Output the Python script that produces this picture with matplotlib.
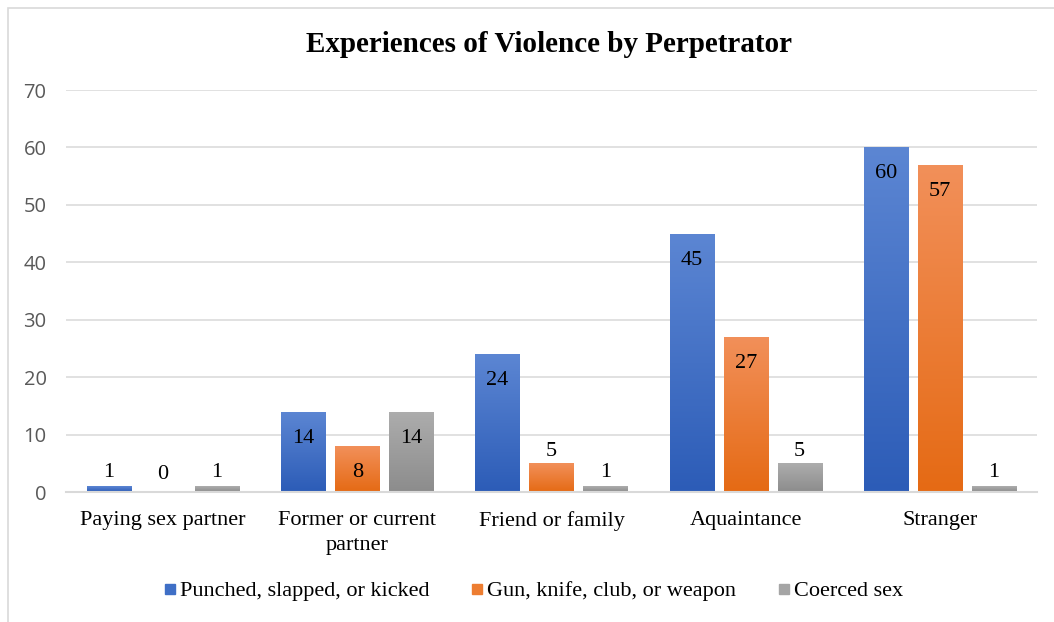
import numpy as np
import matplotlib
matplotlib.use("Agg")
import matplotlib.pyplot as plt
from matplotlib.colors import LinearSegmentedColormap
from matplotlib.patches import Rectangle
from matplotlib.lines import Line2D

categories = ["Paying sex partner", "Former or current\npartner", "Friend or family",
              "Aquaintance", "Stranger"]
series_names = ["Punched, slapped, or kicked", "Gun, knife, club, or weapon", "Coerced sex"]
punched = [1, 14, 24, 45, 60]
weapon = [0, 8, 5, 27, 57]
coerced = [1, 14, 1, 5, 1]
yticks = [0, 10, 20, 30, 40, 50, 60, 70]

series = [punched, weapon, coerced]
top_colors = ["#5C86D3", "#F2905A", "#ADADAD"]
bot_colors = ["#2C5CB7", "#E56A14", "#8C8C8C"]
legend_colors = ["#3F6FC6", "#ED7D31", "#A5A5A5"]

W, H = 1054, 622
fig = plt.figure(figsize=(W / 100, H / 100), dpi=100)
fig.patch.set_facecolor("white")

# chart border
fig.patches.append(Rectangle((8 / W, -0.1), 1.2, 1 - 8 / H + 0.1, transform=fig.transFigure,
                             fill=False, edgecolor="#D9D9D9", linewidth=1.2))

ax = fig.add_axes([66 / W, 1 - 492 / H, (1037 - 66) / W, (492 - 90) / H])
ax.set_facecolor("none")
ax.set_xlim(-0.5, len(categories) - 0.5)
ax.set_ylim(0, 70)

bw = 0.227
step = 0.278
x = np.arange(len(categories))

for si, vals in enumerate(series):
    xs = x + (si - 1) * step
    bars = ax.bar(xs, vals, width=bw, color=legend_colors[si], zorder=3, linewidth=0)
    cmap = LinearSegmentedColormap.from_list("g%d" % si, [bot_colors[si], top_colors[si]])
    for b, v, xc in zip(bars, vals, xs):
        if v > 0:
            grad = np.linspace(0, 1, 256).reshape(-1, 1)
            im = ax.imshow(grad, cmap=cmap, origin="lower", aspect="auto",
                           extent=[b.get_x(), b.get_x() + b.get_width(), 0, v], zorder=4)
            im.set_clip_path(b)
        if v >= 8:
            ax.annotate(str(v), (xc, v), xytext=(0, -31 * 0.72), textcoords="offset points",
                        ha="center", va="baseline", fontsize=16, family="Liberation Serif",
                        color="black", zorder=6)
        else:
            ax.annotate(str(v), (xc, v), xytext=(0, 2 if v >= 3 else 6 if v == 0 else 3),
                        textcoords="offset points",
                        ha="center", va="bottom", fontsize=16, family="Liberation Serif",
                        color="black", zorder=6)

ax.set_xlim(-0.5, len(categories) - 0.5)
ax.set_ylim(0, 70)

ax.set_yticks(yticks)
ax.set_yticklabels([str(t) for t in yticks], fontsize=14.5, family="Open Sans", color="#595959")
ax.set_xticks(x)
ax.set_xticklabels(categories, fontsize=16, family="Liberation Serif", color="black",
                   linespacing=1.4)
ax.tick_params(axis="both", length=0)
ax.tick_params(axis="y", pad=14)
ax.tick_params(axis="x", pad=14)
ax.grid(axis="y", color="#D9D9D9", linewidth=1.1, zorder=0)
ax.set_axisbelow(True)
for s in ["top", "right", "left"]:
    ax.spines[s].set_visible(False)
ax.spines["bottom"].set_color("#D9D9D9")
ax.spines["bottom"].set_linewidth(1.5)
ax.spines["bottom"].set_zorder(5)

fig.text(0.5 * (305 + 793) / W, 1 - 45 / H, "Experiences of Violence by Perpetrator",
         ha="center", va="center", fontsize=21, fontweight="bold", family="Liberation Serif")

handles = [Line2D([], [], marker="s", linestyle="none", markersize=6.5,
                  markerfacecolor=c, markeredgecolor=c) for c in legend_colors]
fig.legend(handles, series_names, loc="center", bbox_to_anchor=(534 / W, 1 - 591 / H),
           ncol=3, frameon=False, prop={"family": "Liberation Serif", "size": 16},
           handlelength=0.5, handletextpad=0.2, columnspacing=1.9)

fig.savefig("out.png", dpi=100, facecolor="white")
